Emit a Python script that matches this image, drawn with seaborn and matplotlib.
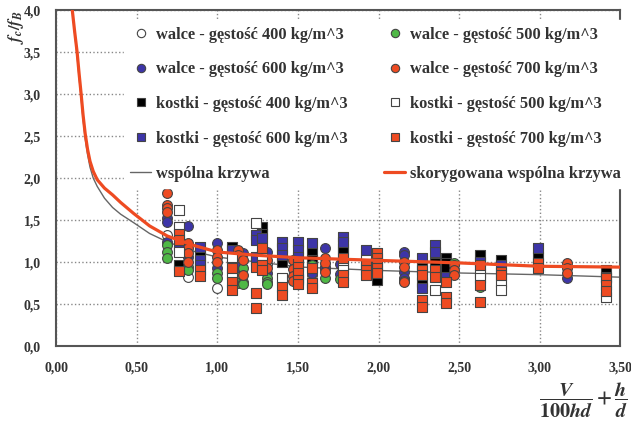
import numpy as np
import pandas as pd
import seaborn as sns
import matplotlib
matplotlib.use('Agg')
import matplotlib.pyplot as plt
from matplotlib.lines import Line2D

# --- data ---
w400_x = [0.69, 0.82, 1.00, 1.59, 1.13, 1.31, 1.67, 2.63]
w400_y = [1.32, 0.82, 0.69, 0.85, 1.00, 0.98, 0.92, 0.80]

w500_x = [0.69, 0.69, 0.69, 0.82, 0.82, 1.00, 1.00, 1.13, 1.13, 1.16, 1.16, 1.16,
          1.31, 1.31, 1.31, 1.59, 1.67, 1.76, 2.16, 2.47, 2.63]
w500_y = [1.20, 1.12, 1.05, 0.94, 0.90, 0.87, 0.81, 0.82, 0.75, 0.93, 0.76, 0.74,
          0.81, 0.76, 0.74, 0.96, 0.81, 0.80, 0.78, 0.99, 0.70]

w600_x = [0.69, 0.69, 0.69, 0.82, 0.82, 1.00, 1.00, 1.13, 1.16, 1.31, 1.31, 1.59,
          1.59, 1.67, 1.67, 1.76, 1.76, 2.16, 2.16, 2.16, 2.16, 3.17]
w600_y = [1.52, 1.48, 1.24, 1.43, 1.06, 1.23, 0.93, 0.94, 1.11, 1.12, 0.87, 0.93,
          0.87, 1.17, 0.94, 0.98, 0.86, 1.12, 1.08, 0.88, 0.81, 0.81]

w700_x = [0.69, 0.69, 0.69, 0.69, 0.82, 0.82, 0.82, 0.82, 1.00, 1.00, 1.00, 1.13,
          1.13, 1.16, 1.16, 1.31, 1.31, 1.47, 1.47, 1.47, 1.47, 1.67, 1.67, 1.67,
          2.16, 2.16, 2.16, 2.47, 2.47, 2.47, 3.17, 3.17, 3.17]
w700_y = [1.82, 1.68, 1.64, 1.60, 1.23, 1.17, 1.11, 1.00, 1.14, 1.06, 1.00, 1.14,
          1.08, 1.02, 0.85, 1.02, 0.93, 1.02, 0.92, 0.84, 0.78, 1.05, 0.99, 0.88,
          1.00, 0.94, 0.76, 0.96, 0.90, 0.85, 0.99, 0.93, 0.87]

k400_x = [0.76, 0.89, 1.09, 1.24, 1.28, 1.28, 1.28, 1.40, 1.50, 1.59, 1.59, 1.78,
          1.78, 1.99, 2.27, 2.27, 2.35, 2.42, 2.42, 2.42, 2.63, 2.76, 2.99, 3.41]
k400_y = [0.96, 1.08, 1.18, 1.02, 1.42, 1.34, 1.05, 1.00, 0.81, 1.11, 1.02, 1.17,
          1.12, 0.79, 0.96, 0.76, 0.99, 1.05, 0.99, 0.93, 1.08, 1.02, 1.06, 0.90]

k500_x = [0.76, 0.76, 0.76, 1.09, 1.09, 1.24, 1.28, 1.40, 1.78, 1.78, 1.92, 2.35,
          2.63, 2.63, 2.76, 2.76, 3.41]
k500_y = [1.62, 1.42, 1.12, 1.06, 0.87, 1.46, 1.08, 0.81, 0.96, 0.90, 1.02, 0.67,
          0.87, 0.81, 0.76, 0.67, 0.58]

k600_x = [0.76, 0.89, 0.89, 0.89, 1.09, 1.24, 1.24, 1.24, 1.28, 1.40, 1.40, 1.40,
          1.50, 1.50, 1.50, 1.59, 1.78, 1.78, 1.92, 2.27, 2.27, 2.35, 2.35, 2.42,
          2.63, 2.76, 2.99, 3.41]
k600_y = [1.20, 1.18, 1.02, 0.96, 1.14, 1.32, 1.26, 1.06, 1.29, 1.24, 1.17, 1.08,
          1.24, 1.14, 1.06, 1.23, 1.30, 1.24, 1.14, 1.05, 0.69, 1.20, 1.12, 0.82,
          1.00, 0.96, 1.17, 0.82]

k700_x = [0.76, 0.76, 0.76, 0.89, 0.89, 1.09, 1.09, 1.09, 1.24, 1.24, 1.24, 1.28,
          1.28, 1.28, 1.40, 1.40, 1.50, 1.50, 1.50, 1.50, 1.50, 1.59, 1.59, 1.59,
          1.78, 1.78, 1.78, 1.92, 1.92, 1.92, 1.99, 1.99, 1.99, 1.99, 1.99, 2.27,
          2.27, 2.27, 2.27, 2.35, 2.35, 2.42, 2.42, 2.42, 2.63, 2.63, 2.63, 2.76,
          2.76, 2.99, 2.99, 3.41, 3.41, 3.41]
k700_y = [1.34, 1.26, 0.89, 0.90, 0.83, 0.93, 0.76, 0.67, 0.94, 0.63, 0.45, 1.17,
          0.96, 0.90, 0.70, 0.61, 1.00, 0.94, 0.87, 0.79, 0.74, 0.93, 0.75, 0.69,
          1.05, 0.85, 0.76, 0.96, 0.90, 0.85, 1.11, 1.05, 0.99, 0.93, 0.87, 0.90,
          0.85, 0.55, 0.46, 0.90, 0.82, 0.76, 0.58, 0.51, 0.96, 0.73, 0.52, 0.88,
          0.85, 0.99, 0.93, 0.81, 0.73, 0.65]

curve_x = [0.10, 0.115, 0.13, 0.142, 0.155, 0.167, 0.18, 0.195, 0.21, 0.23, 0.255,
           0.30, 0.35, 0.40, 0.48, 0.58, 0.69, 0.85, 1.0, 1.25, 1.52, 2.0, 2.5,
           3.0, 3.5]
grey_y = [4.0, 3.72, 3.45, 3.2, 2.95, 2.7, 2.47, 2.28, 2.13, 2.0, 1.9,
          1.76, 1.65, 1.57, 1.47, 1.34, 1.24, 1.13, 1.06, 1.00, 0.94, 0.90, 0.87,
          0.85, 0.82]
orange_y = [4.0, 3.74, 3.5, 3.25, 3.0, 2.75, 2.53, 2.34, 2.2, 2.08, 1.98,
            1.88, 1.80, 1.71, 1.58, 1.43, 1.31, 1.20, 1.12, 1.08, 1.05, 1.02, 0.99,
            0.95, 0.94]

RED = '#ee4b22'
BLUE = '#3d35a8'
GREEN = '#4fb846'
EDGE = '#444444'

series = [
    ('walce - gęstość 400 kg/m^3', w400_x, w400_y, 'o', 'white'),
    ('walce - gęstość 600 kg/m^3', w600_x, w600_y, 'o', BLUE),
    ('kostki - gęstość 400 kg/m^3', k400_x, k400_y, 's', 'black'),
    ('kostki - gęstość 600 kg/m^3', k600_x, k600_y, 's', BLUE),
    ('walce - gęstość 500 kg/m^3', w500_x, w500_y, 'o', GREEN),
    ('walce - gęstość 700 kg/m^3', w700_x, w700_y, 'o', RED),
    ('kostki - gęstość 500 kg/m^3', k500_x, k500_y, 's', 'white'),
    ('kostki - gęstość 700 kg/m^3', k700_x, k700_y, 's', RED),
]

sns.set_style('white')
plt.rcParams['font.family'] = ['Liberation Serif', 'DejaVu Serif']
plt.rcParams['font.weight'] = 'bold'
plt.rcParams['mathtext.fontset'] = 'stix'

fig = plt.figure(figsize=(6.31, 4.21), dpi=100)
ax = fig.add_axes([0.089, 0.178, 0.894, 0.798])

ax.grid(True, linestyle=':', color='#888888', linewidth=1.0)
ax.set_axisbelow(True)

sns.lineplot(x=curve_x, y=grey_y, ax=ax, color='#666666', linewidth=1.0,
             sort=False, estimator=None, zorder=2)

handles = {}
for name, xs, ys, mk, col in series:
    sns.scatterplot(x=xs, y=ys, ax=ax, marker=mk, color=col, edgecolor=EDGE,
                    linewidth=0.8, s=50, zorder=3)
    handles[name] = Line2D([], [], linestyle='none', marker=mk, markersize=6,
                           markerfacecolor=col, markeredgecolor=EDGE,
                           markeredgewidth=0.8)

sns.lineplot(x=curve_x, y=orange_y, ax=ax, color=RED, linewidth=2.3,
             sort=False, estimator=None, zorder=4)

h_grey = Line2D([], [], color='#666666', linewidth=1.0)
h_or = Line2D([], [], color=RED, linewidth=2.3)

order = ['walce - gęstość 400 kg/m^3', 'walce - gęstość 600 kg/m^3',
         'kostki - gęstość 400 kg/m^3', 'kostki - gęstość 600 kg/m^3']
order2 = ['walce - gęstość 500 kg/m^3', 'walce - gęstość 700 kg/m^3',
          'kostki - gęstość 500 kg/m^3', 'kostki - gęstość 700 kg/m^3']
hs = [handles[n] for n in order] + [h_grey] + [handles[n] for n in order2] + [h_or]
labs = order + ['wspólna krzywa'] + order2 + ['skorygowana wspólna krzywa']
leg = ax.legend(hs, labs, ncol=2, loc='upper left', bbox_to_anchor=(0.105, 0.995),
                frameon=True, fancybox=False, edgecolor='white', framealpha=1,
                fontsize=11.8, handlelength=1.3, handletextpad=0.3,
                columnspacing=2.2, labelspacing=1.15, borderpad=0.4)
for t in leg.get_texts():
    t.set_color('#333333')
leg.set_zorder(5)

ax.set_xlim(0, 3.5)
ax.set_ylim(0, 4.0)
xt = [0, 0.5, 1.0, 1.5, 2.0, 2.5, 3.0, 3.5]
yt = [0, 0.5, 1.0, 1.5, 2.0, 2.5, 3.0, 3.5, 4.0]
ax.set_xticks(xt)
ax.set_yticks(yt)
ax.set_xticklabels([f'{v:.2f}'.replace('.', ',') for v in xt])
ax.set_yticklabels([f'{v:.1f}'.replace('.', ',') for v in yt])
ax.tick_params(axis='both', labelsize=10, colors='#333333', length=3,
               direction='out', pad=8)
for s in ax.spines.values():
    s.set_color('#555555')
    s.set_linewidth(1.5)

fig.text(0.025, 0.975, r'$f_c/f_B$', rotation=90, fontsize=12, color='#333333',
         ha='center', va='top')
fig.text(0.995, 0.002, r'$\dfrac{V}{100hd}+\dfrac{h}{d}$', fontsize=14.5,
         color='#333333', ha='right', va='bottom')

fig.savefig('out.png', dpi=100)
